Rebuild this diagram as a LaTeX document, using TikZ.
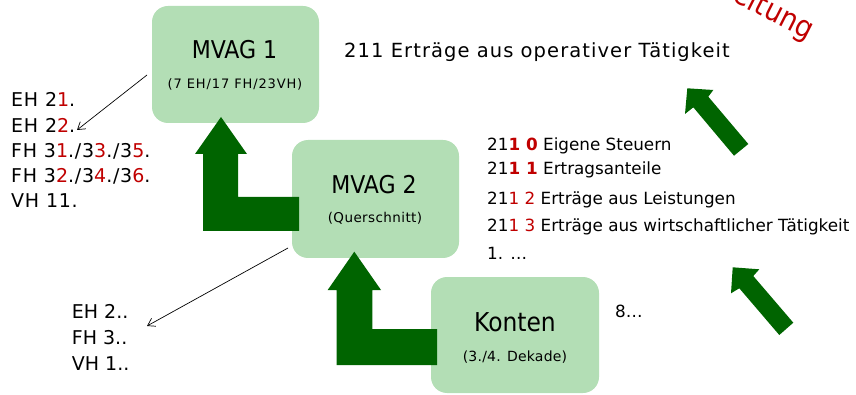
\documentclass[tikz,border=0pt]{standalone}
\usepackage{fontspec}
\setmainfont{DejaVu Sans}
\newfontfamily\condfont{DejaVu Sans Condensed}
\usetikzlibrary{arrows.meta}
\definecolor{boxgreen}{HTML}{B3DEB5}
\definecolor{arrowgreen}{HTML}{006400}
\definecolor{codered}{HTML}{C00000}
\newcommand{\fs}[2]{\fontsize{#1}{#1}\selectfont\addfontfeature{LetterSpace=#2}}
\newcommand{\rd}[1]{\textcolor{codered}{#1}}
\newcommand{\rdb}[1]{\textcolor{codered}{\bfseries #1}}

\begin{document}
\begin{tikzpicture}[x=1pt,y=-1pt,
  box/.style={fill=boxgreen, rounded corners=16pt, inner sep=0pt},
  title/.style={anchor=base, inner sep=0pt, font=\condfont\fontsize{24.5}{24.5}\selectfont},
  subtitle/.style={anchor=base, inner sep=0pt, font=\fs{13}{6.7}},
  listline/.style={anchor=base west, inner sep=0pt, font=\fs{19}{4}},
  shortline/.style={anchor=base west, inner sep=0pt, font=\fs{19}{0}},
  subline/.style={anchor=base west, inner sep=0pt, font=\fs{16.8}{0}},
  blockarrow/.style={fill=arrowgreen, draw=none},
  pointer/.style={draw=black, line width=0.7pt, -{Straight Barb[length=7pt,width=9pt]}}]
\useasboundingbox (0,0) rectangle (856,395);
\clip (0,0) rectangle (856,395);

% category boxes
\node[box, minimum width=167pt, minimum height=117pt] (mvag1) at (235.5,64.5) {};
\node[box, minimum width=167pt, minimum height=118pt] (mvag2) at (375.5,199) {};
\node[box, minimum width=168pt, minimum height=116pt] (konten) at (515,335) {};

\node[title] (mvag1-t) at (234.5,59) {MVAG 1};
\node[subtitle] (mvag1-s) at (235,89) {(7 EH/17 FH/23VH)};
\node[title] (mvag2-t) at (374,194) {MVAG 2};
\node[subtitle, font=\fs{13.5}{3}] (mvag2-s) at (375,223) {(Querschnitt)};
\node[title, font=\condfont\fontsize{26}{26}\selectfont] (konten-t) at (515,331.5) {Konten};
\node[subtitle, font=\fs{14}{1.6}] (konten-s) at (515,361) {(3./4. Dekade)};

% L-shaped block arrows between the levels
\fill[blockarrow] (221,117) -- (247,154) -- (238,154) -- (238,197) -- (299,197)
  -- (299,231) -- (203,231) -- (203,154) -- (195,154) -- cycle;
\fill[blockarrow] (354.3,251.7) -- (381,290) -- (372.3,290) -- (372.3,329) -- (437,329)
  -- (437,365) -- (336.7,365) -- (336.7,290) -- (327.7,290) -- cycle;

% diagonal block arrows on the right
\fill[blockarrow] (687.3,88.3) -- (713.3,90) -- (708.3,96.7) -- (748.3,144)
  -- (734,155.7) -- (693.3,107.3) -- (685,114) -- cycle;
\fill[blockarrow] (732.7,267.3) -- (759.3,269.3) -- (753.3,276) -- (793.3,322.7)
  -- (779.3,335) -- (739.3,288.3) -- (731,293.3) -- cycle;

% account groups of MVAG 1
\node[listline] (l1) at (11,107) {EH 2\rd{1}.};
\node[listline] (l2) at (11,132.2) {EH 2\rd{2}.};
\node[listline] (l3) at (11,157.4) {FH 3\rd{1}./3\rd{3}./3\rd{5}.};
\node[listline] (l4) at (11,182.6) {FH 3\rd{2}./3\rd{4}./3\rd{6}.};
\node[listline] (l5) at (11,207.8) {VH 11.};

% account groups of MVAG 2
\node[shortline] (m1) at (71.7,318.3) {EH 2..};
\node[shortline] (m2) at (71.7,344.2) {FH 3..};
\node[shortline] (m3) at (71.7,370.1) {VH 1..};

\coordinate (p1s) at (147,75);
\coordinate (p1e) at (77,130);
\coordinate (p2s) at (288,248);
\coordinate (p2e) at (147,326);
\draw[pointer] (p1s) -- (p1e);
\draw[pointer] (p2s) -- (p2e);

% revenue accounts
\node[anchor=base west, inner sep=0pt, font=\fs{19.5}{5.5}] (head) at (344,57.3)
  {211 Erträge aus operativer Tätigkeit};
\node[subline] (r0) at (487,150.7) {21\rdb{1 0} Eigene Steuern};
\node[subline] (r1) at (487,175) {21\rdb{1 1} Ertragsanteile};
\node[subline] (r2) at (487,205) {21\rd{1 2} Erträge aus Leistungen};
\node[subline] (r3) at (487,231.7) {21\rd{1 3} Erträge aus wirtschaftlicher Tätigkeit};
\node[subline] (r4) at (487,259.3) {1. …};
\node[subline] (r8) at (615,317.3) {8…};

% heading running off the upper edge
\node[anchor=base east, inner sep=0pt, rotate=-27, text=codered,
  font=\condfont\fontsize{30}{30}\selectfont] (ueb) at (808,40) {Überleitung};
\end{tikzpicture}
\end{document}
